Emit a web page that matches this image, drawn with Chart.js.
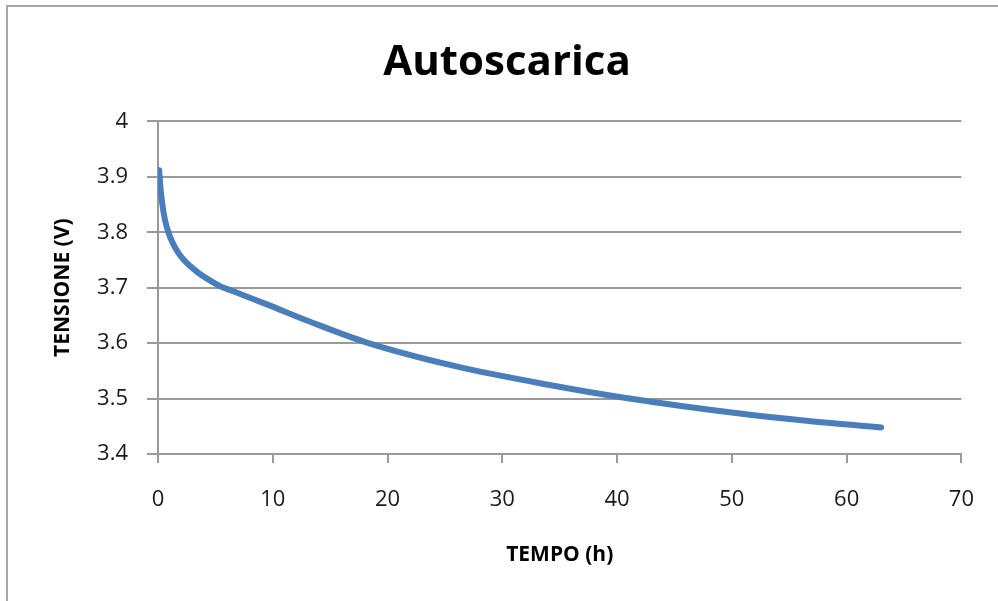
<!DOCTYPE html>
<html>
<head>
<meta charset="utf-8">
<script src="https://cdn.jsdelivr.net/npm/chart.js@4"></script>
<style>
  html, body { margin: 0; padding: 0; background: #fff; overflow: hidden; }
  #wrap { position: relative; width: 998px; height: 601px; }
  #frame { position: absolute; left: 6px; top: 5px; width: 1100px; height: 700px; border: 2px solid #a6a6a6; }
  canvas { position: absolute; left: 0; top: 0; }
</style>
</head>
<body>
<div id="wrap">
  <div id="frame"></div>
  <canvas id="myChart" width="998" height="601"></canvas>
</div>
<script>
// values: time (h) and voltage (V)
var timeHours = [0.1, 0.2, 0.35, 0.6, 0.9, 1.3, 1.8, 2.3, 2.8, 3.5, 4.3, 5.5, 6.5, 8.0, 9.6, 13.2, 18.2, 26.0, 34.0, 40.5, 50.7, 56.5, 63.0];
var voltage   = [3.912, 3.884, 3.855, 3.823, 3.800, 3.780, 3.762, 3.749, 3.739, 3.727, 3.716, 3.702, 3.694, 3.682, 3.669, 3.639, 3.601, 3.558, 3.525, 3.502, 3.473, 3.460, 3.448];
var xTicks = [0, 10, 20, 30, 40, 50, 60, 70];
var yTicks = [3.4, 3.5, 3.6, 3.7, 3.8, 3.9, 4];

var pts = [];
for (var i = 0; i < timeHours.length; i++) {
    pts.push({x: timeHours[i], y: voltage[i]});
}

var grey = "#9a9a9a";
var tickFont = {family: "'Open Sans', sans-serif", size: 22};
var ctx = document.getElementById("myChart").getContext("2d");

var myChart = new Chart(ctx, {
    type: "scatter",
    data: {
        datasets: [{
            data: pts,
            showLine: true,
            borderColor: "#4a7ebb",
            borderWidth: 6,
            borderCapStyle: "round",
            pointRadius: 0,
            cubicInterpolationMode: "monotone"
        }]
    },
    options: {
        responsive: false,
        animation: false,
        layout: { padding: { left: 16, right: 0, top: 0, bottom: 0 } },
        plugins: {
            legend: { display: false },
            tooltip: { enabled: false },
            title: {
                display: true,
                text: "Autoscarica",
                color: "#000",
                font: { family: "'Open Sans', sans-serif", size: 42, weight: "bold", lineHeight: 1.2 },
                padding: { top: 38, bottom: 33 }
            }
        },
        scales: {
            x: {
                type: "linear",
                min: 0,
                max: 70,
                afterBuildTicks: function(s) { s.ticks = xTicks.map(function(v){ return {value: v}; }); },
                afterFit: function(s) { s.height = 147; },
                ticks: { color: "#1a1a1a", font: tickFont, padding: 24, maxRotation: 0 },
                grid: { drawOnChartArea: false, drawTicks: true, tickLength: 9, color: grey, lineWidth: 2 },
                border: { color: grey, width: 2 },
                title: {
                    display: true,
                    text: "TEMPO (h)",
                    color: "#000",
                    font: { family: "'Open Sans', sans-serif", size: 21, weight: "bold", lineHeight: 1.2 },
                    padding: 33
                }
            },
            y: {
                min: 3.4,
                max: 4,
                afterBuildTicks: function(s) { s.ticks = yTicks.map(function(v){ return {value: v}; }); },
                afterFit: function(s) { s.width = 142; },
                ticks: {
                    color: "#1a1a1a", font: tickFont, padding: 19,
                    callback: function(v) { return String(v); }
                },
                grid: { drawTicks: true, tickLength: 11, color: grey, lineWidth: 2 },
                border: { color: grey, width: 2 },
                title: {
                    display: true,
                    text: "TENSIONE (V)",
                    color: "#000",
                    font: { family: "'Open Sans', sans-serif", size: 21, weight: "bold", lineHeight: 1.2 },
                    padding: 34
                }
            },
            // empty box on the right, keeps the title centred on the whole frame
            yRight: {
                position: "right",
                display: true,
                afterFit: function(s) { s.width = 36; },
                ticks: { display: false },
                grid: { display: false },
                border: { display: false }
            }
        }
    }
});
</script>
</body>
</html>
